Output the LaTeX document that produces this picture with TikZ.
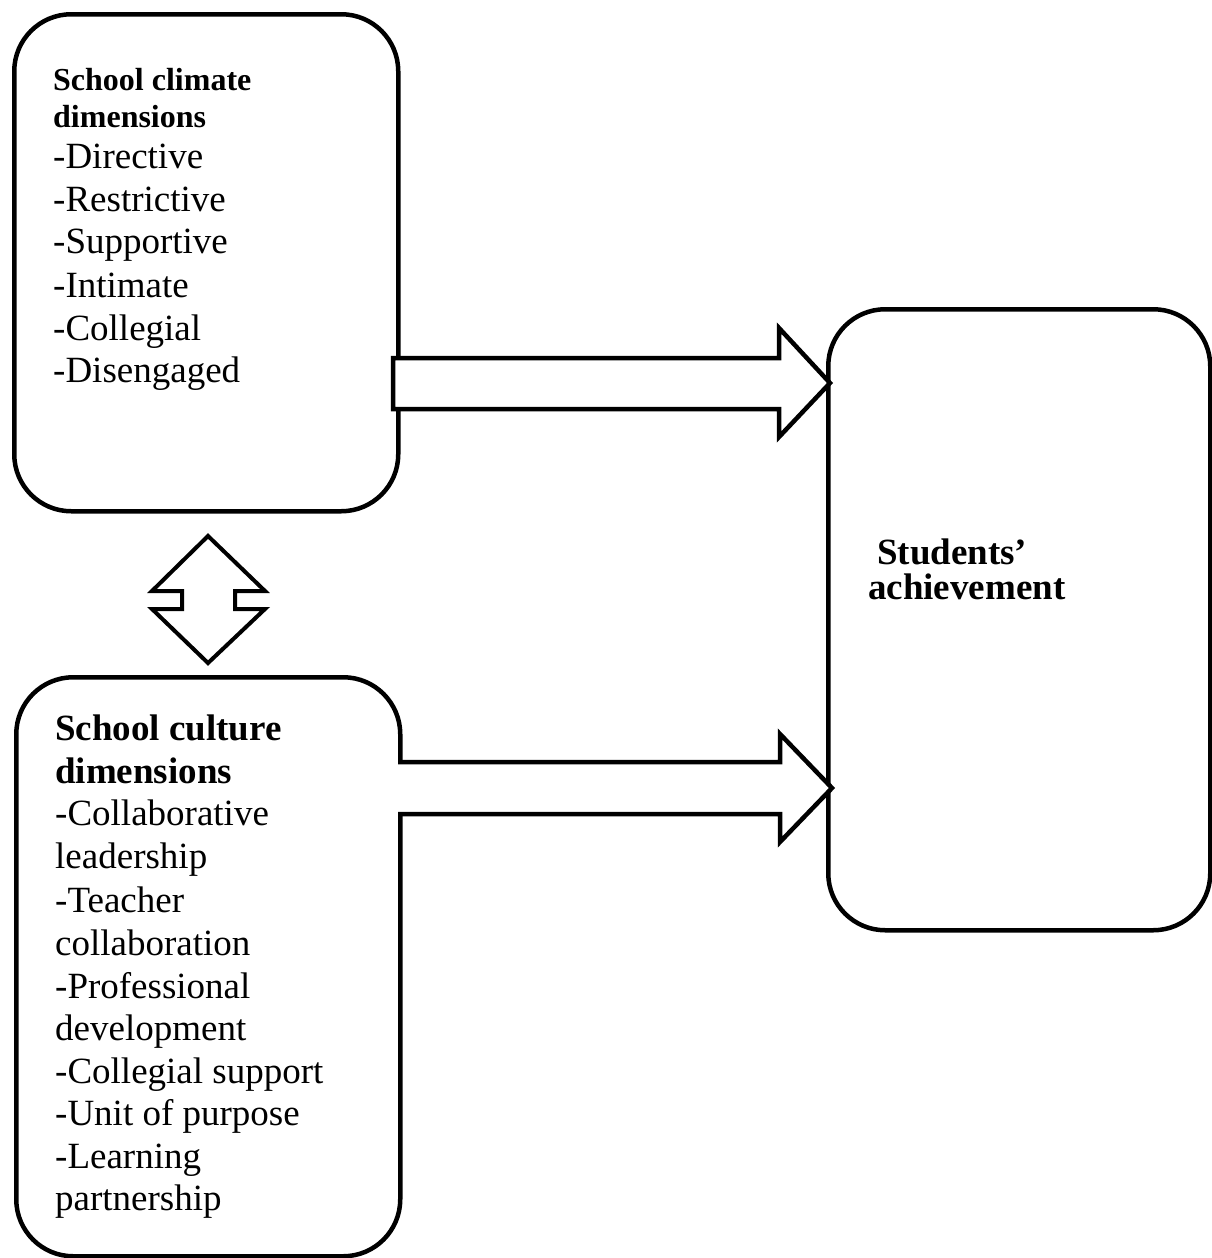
\documentclass[tikz,border=0pt]{standalone}
\usepackage{fontspec}
\setmainfont{Liberation Serif}
\begin{document}
\begin{tikzpicture}[x=1pt,y=-1pt,
  box/.style={draw=black, line width=4.5pt, rounded corners=57pt, inner sep=0pt, anchor=north west},
  blockarrow/.style={draw=black, line width=4.5pt, line join=miter, miter limit=10, fill=white},
  item/.style={anchor=base west, inner sep=0pt, font=\fontsize{37}{43}\selectfont},
  head/.style={anchor=base west, inner sep=0pt, font=\fontsize{37}{43}\selectfont\bfseries},
  smallhead/.style={anchor=base west, inner sep=0pt, font=\fontsize{32}{37}\selectfont\bfseries}]
\useasboundingbox (0,0) rectangle (1211,1258);
\fill[white] (0,0) rectangle (1211,1258);

% boxes
\node[box, minimum width=384pt, minimum height=497pt] (climate) at (12,12) {};
\node[box, minimum width=384pt, minimum height=579pt] (culture) at (14,675) {};
\node[box, minimum width=382pt, minimum height=621pt] (students) at (826,307) {};

% block arrows
\draw[blockarrow] (393,358) -- (779,358) -- (779,328) -- (830,383) -- (779,437) -- (779,409) -- (393,409) -- cycle;
\draw[blockarrow] (398,762) -- (780,762) -- (780,734) -- (832,788) -- (780,842) -- (780,814) -- (398,814);
\draw[blockarrow, line width=4pt] (208,536) -- (265,591) -- (235,591) -- (235,609) -- (265,609) -- (208,663)
  -- (152,609) -- (182,609) -- (182,591) -- (152,591) -- cycle;

% climate text
\node[smallhead] (ch1) at (53,90) {School climate};
\node[smallhead] (ch2) at (53,127) {dimensions};
\node[item] (c1) at (53,168) {-Directive};
\node[item] (c2) at (53,211) {-Restrictive};
\node[item] (c3) at (53,253) {-Supportive};
\node[item] (c4) at (53,297) {-Intimate};
\node[item] (c5) at (53,340) {-Collegial};
\node[item] (c6) at (53,382) {-Disengaged};

% culture text
\node[head] (uh1) at (55,740) {School culture};
\node[head] (uh2) at (55,783) {dimensions};
\node[item] (u1) at (55,825) {-Collaborative};
\node[item] (u2) at (55,868) {leadership};
\node[item] (u3) at (55,912) {-Teacher};
\node[item] (u4) at (55,955) {collaboration};
\node[item] (u5) at (55,998) {-Professional};
\node[item] (u6) at (55,1040) {development};
\node[item] (u7) at (55,1083) {-Collegial support};
\node[item] (u8) at (55,1125) {-Unit of purpose};
\node[item] (u9) at (55,1168) {-Learning};
\node[item] (u10) at (55,1210) {partnership};

% students text
\node[head] (s1) at (877,564) {Students’};
\node[head] (s2) at (868,599) {achievement};
\end{tikzpicture}
\end{document}
